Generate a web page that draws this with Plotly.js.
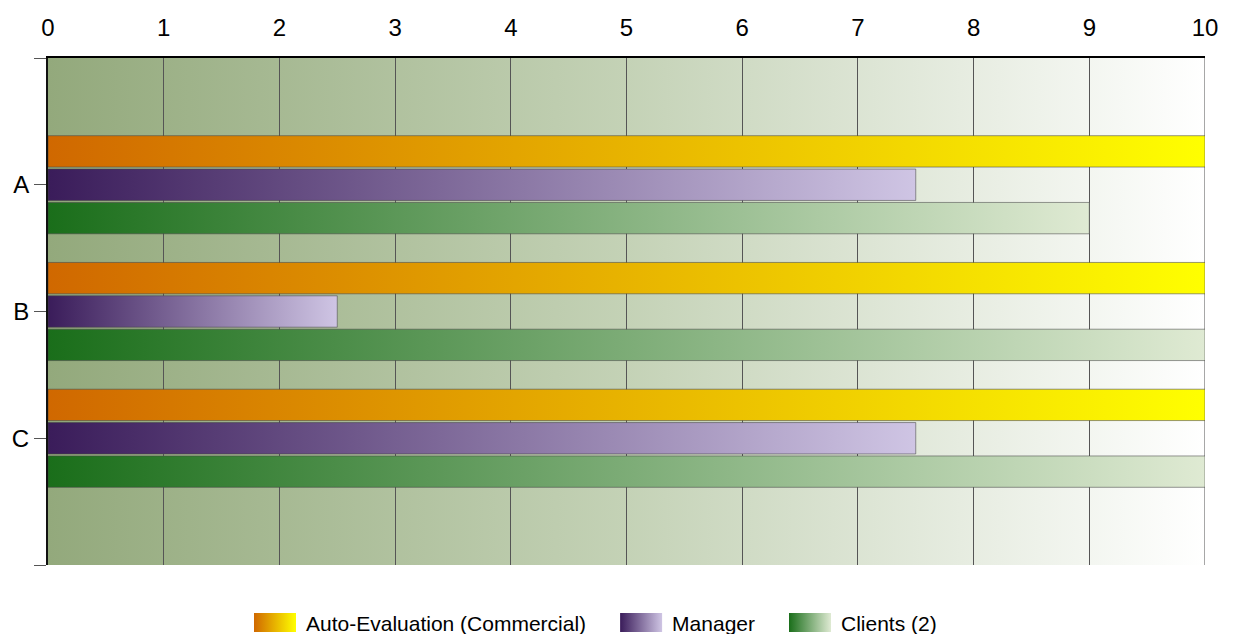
<!DOCTYPE html>
<html>
<head>
<meta charset="utf-8">
<script src="https://cdn.plot.ly/plotly-3.0.1.min.js"></script>
<style>
html,body{margin:0;padding:0;background:#fff;}
#chart{width:1233px;height:634px;}
</style>
</head>
<body>
<div id="chart"></div>
<script>
// ---- data ----
const categories = ['A', 'B', 'C'];
const seriesNames = ['Auto-Evaluation (Commercial)', 'Manager', 'Clients (2)'];
const autoEval = [10, 10, 10];
const manager = [7.5, 2.5, 7.5];
const clients = [9, 10, 10];
const xTicks = [0, 1, 2, 3, 4, 5, 6, 7, 8, 9, 10];

// ---- styling ----
const gradients = [
  ['#d06800', '#ffff00'],
  ['#3a1c5a', '#cfc5e4'],
  ['#1a6e1a', '#dfead3']
];
const solid = ['#e8b400', '#84719e', '#7cac74'];
const FONT = '"Liberation Sans", Arial, sans-serif';

const catIdx = categories.map((c, i) => i);
const values = [autoEval, manager, clients];

const data = values.map((v, i) => ({
  type: 'bar',
  orientation: 'h',
  name: seriesNames[i],
  x: v,
  y: catIdx,
  marker: { color: solid[i], line: { color: 'rgba(70,70,70,0.55)', width: 1 } },
  hoverinfo: 'skip'
}));

const layout = {
  width: 1233, height: 634,
  margin: { l: 48, r: 28, t: 58, b: 69, pad: 0, autoexpand: false },
  paper_bgcolor: '#ffffff',
  plot_bgcolor: '#cad6be',
  font: { family: FONT, color: '#000' },
  barmode: 'group',
  bargap: 0.21,
  bargroupgap: 0.06,
  showlegend: true,
  legend: {
    orientation: 'h', x: 0.5, xanchor: 'center', xref: 'container',
    y: 0.0174, yanchor: 'middle', yref: 'container',
    font: { family: FONT, size: 21, color: '#000' },
    bgcolor: 'rgba(0,0,0,0)', borderwidth: 0,
    itemwidth: 52,
    traceorder: 'normal'
  },
  shapes: [{
    type: 'line', xref: 'x', yref: 'paper', x0: 10, x1: 10, y0: 0, y1: 1,
    line: { color: '#8a8a8a', width: 1.5 }, layer: 'below'
  }],
  xaxis: {
    side: 'top', range: [0, 10], tickvals: xTicks, ticktext: xTicks.map(String),
    tickfont: { family: FONT, size: 24, color: '#000' },
    showgrid: true, gridcolor: '#555555', gridwidth: 1,
    zeroline: false, showline: true, linecolor: '#000', linewidth: 2,
    ticks: '', ticklabelstandoff: 10, fixedrange: true
  },
  yaxis: {
    range: [3, -1], tickvals: [-1, 0, 1, 2, 3], ticktext: ['', ...categories, ''],
    tickfont: { family: FONT, size: 24, color: '#000' },
    showgrid: false, zeroline: false,
    showline: true, linecolor: '#111', linewidth: 2,
    ticks: 'outside', ticklen: 12, tickcolor: '#555', tickwidth: 1,
    fixedrange: true
  }
};

const NS = 'http://www.w3.org/2000/svg';
const LEGEND_START = 254;   // left edge of first legend swatch (px)
const LEGEND_GAP = 34;      // space between an entry's text and the next swatch

function decorate(gd) {
  const svg = gd.querySelector('svg.main-svg');
  let defs = svg.querySelector('defs');
  if (!defs) { defs = document.createElementNS(NS, 'defs'); svg.insertBefore(defs, svg.firstChild); }
  function addGrad(id, stops) {
    if (document.getElementById(id)) return;
    const g = document.createElementNS(NS, 'linearGradient');
    g.setAttribute('id', id);
    g.setAttribute('x1', '0'); g.setAttribute('y1', '0');
    g.setAttribute('x2', '1'); g.setAttribute('y2', '0');
    stops.forEach((c, k) => {
      const s = document.createElementNS(NS, 'stop');
      s.setAttribute('offset', (k / (stops.length - 1)).toString());
      s.setAttribute('stop-color', c);
      g.appendChild(s);
    });
    defs.appendChild(g);
  }
  gradients.forEach((st, i) => addGrad('barGrad' + i, st));
  addGrad('bgGrad', ['#93a97c', '#c4d2b6', '#ffffff']);

  gd.querySelectorAll('.bglayer rect.bg').forEach(bg => { bg.style.fill = 'url(#bgGrad)'; });

  gd.querySelectorAll('.barlayer .trace').forEach((tr, i) => {
    tr.querySelectorAll('path').forEach(p => { p.style.fill = 'url(#barGrad' + i + ')'; });
  });

  gd.querySelectorAll('.legend, .legend .scrollbox, .legend g').forEach(el => el.removeAttribute('clip-path'));
  const items = [...gd.querySelectorAll('.legend .traces')];
  let desired = LEGEND_START;
  items.forEach((tr, i) => {
    const paths = tr.querySelectorAll('.legendpoints path');
    paths.forEach(p => {
      p.setAttribute('d', 'M-21,-9.5H21V9.5H-21Z');
      p.style.fill = 'url(#barGrad' + i + ')';
      p.style.stroke = 'none';
    });
    if (!paths.length) return;
    const cur = paths[0].getBoundingClientRect().left;
    const delta = desired - cur;
    const m = /translate\(\s*([-\d.e]+)[ ,]+([-\d.e]+)\s*\)/.exec(tr.getAttribute('transform') || '');
    const tx = m ? parseFloat(m[1]) : 0, ty = m ? parseFloat(m[2]) : 0;
    tr.setAttribute('transform', 'translate(' + (tx + delta) + ',' + ty + ')');
    const txt = tr.querySelector('text.legendtext');
    if (txt) desired = txt.getBoundingClientRect().right + LEGEND_GAP;
  });
}

Plotly.newPlot('chart', data, layout, { staticPlot: true, displayModeBar: false }).then(gd => {
  decorate(gd);
});
</script>
</body>
</html>
